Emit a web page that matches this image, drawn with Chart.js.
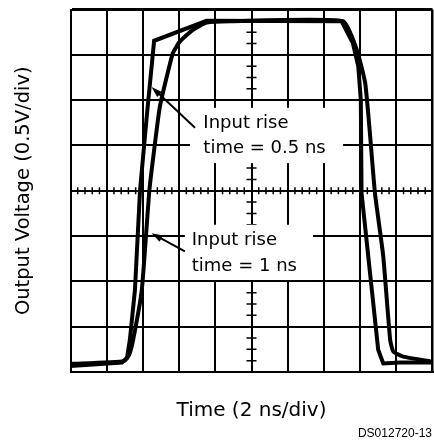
<!DOCTYPE html>
<html lang="en">
<head>
    <meta charset="UTF-8" />
    <title>Output Voltage vs Time</title>
    <script src="https://cdn.jsdelivr.net/npm/chart.js"></script>
    <style>
        body { margin: 0; background: #fff; }
        #wrap { width: 434px; height: 441px; }
    </style>
</head>
<body>
    <div id="wrap"><canvas id="scope" width="434" height="441"></canvas></div>

    <script>
        // axes in scope divisions: 10 across (2 ns/div), 8 up (0.5 V/div)
        var xDivs = 10, yDivs = 8;
        var xTitle = "Time (2 ns/div)";
        var yTitle = "Output Voltage (0.5V/div)";
        var figId = "DS012720-13";

        // input rise time = 0.5 ns
        var fastX = [0, 1.42, 1.56, 1.64, 1.78, 1.92, 2.11, 2.31, 3.76, 7.49, 7.80, 7.95, 8.02, 8.04, 8.28, 8.50, 8.64, 9.10, 10];
        var fastY = [0.13, 0.21, 0.31, 0.71, 1.81, 4.00, 5.67, 7.31, 7.75, 7.74, 7.26, 6.74, 6.00, 3.95, 2.14, 0.49, 0.19, 0.21, 0.21];

        // input rise time = 1 ns
        var slowX = [0, 1.48, 1.62, 1.73, 1.97, 2.18, 2.38, 2.47, 2.66, 2.83, 3.02, 3.38, 3.76, 4.41, 7.53, 7.91, 8.14, 8.27, 8.41, 8.64, 8.83, 8.92, 9.19, 10];
        var slowY = [0.18, 0.24, 0.38, 0.71, 1.81, 4.02, 5.34, 5.86, 6.52, 7.04, 7.29, 7.55, 7.71, 7.74, 7.74, 7.11, 6.38, 5.28, 3.95, 2.55, 0.71, 0.45, 0.34, 0.23];

        // callout labels
        var noteLines = [["Input rise", "time = 0.5 ns"], ["Input rise", "time = 1 ns"]];

        function pts(xs, ys) {
            return xs.map(function (x, i) { return { x: x, y: ys[i] }; });
        }

        // callout geometry, in divisions
        var notes = [
            { box: [3.30, 5.83, 7.53, 4.61], text: [3.67, 5.38, 4.83], from: [3.44, 5.39], to: [2.24, 6.29] },
            { box: [3.16, 3.25, 6.70, 2.03], text: [3.35, 2.80, 2.24], from: [3.16, 2.66], to: [2.24, 3.06] }
        ];

        const scopeOverlay = {
            id: "scopeOverlay",
            beforeDatasetsDraw(chart) {
                const { ctx, scales: { x, y } } = chart;
                const cx = x.getPixelForValue(xDivs / 2), cy = y.getPixelForValue(yDivs / 2);
                ctx.save();
                ctx.strokeStyle = "#000";
                ctx.lineWidth = 1.5;
                ctx.beginPath();
                for (let i = 1; i < xDivs * 5; i++) {
                    if (i % 5 === 0) continue;
                    const px = x.getPixelForValue(i / 5);
                    ctx.moveTo(px, cy - 3.5); ctx.lineTo(px, cy + 3.5);
                }
                for (let i = 1; i < yDivs * 4; i++) {
                    if (i % 4 === 0) continue;
                    const py = y.getPixelForValue(i / 4);
                    ctx.moveTo(cx - 5, py); ctx.lineTo(cx + 5, py);
                }
                ctx.stroke();
                // blank out grid behind the callouts
                ctx.fillStyle = "#fff";
                notes.forEach(function (n) {
                    const x0 = x.getPixelForValue(n.box[0]), y0 = y.getPixelForValue(n.box[1]);
                    const x1 = x.getPixelForValue(n.box[2]), y1 = y.getPixelForValue(n.box[3]);
                    ctx.fillRect(x0, y0, x1 - x0, y1 - y0);
                });
                ctx.restore();
            },
            afterDatasetsDraw(chart) {
                const { ctx, scales: { x, y } } = chart;
                ctx.save();
                ctx.fillStyle = "#000";
                ctx.strokeStyle = "#000";
                ctx.font = "18px 'DejaVu Sans'";
                ctx.textBaseline = "alphabetic";
                notes.forEach(function (n, k) {
                    const tx = x.getPixelForValue(n.text[0]);
                    ctx.fillText(noteLines[k][0], tx, y.getPixelForValue(n.text[1]));
                    ctx.fillText(noteLines[k][1], tx, y.getPixelForValue(n.text[2]));
                    // arrow
                    const ax = x.getPixelForValue(n.from[0]), ay = y.getPixelForValue(n.from[1]);
                    const bx = x.getPixelForValue(n.to[0]), by = y.getPixelForValue(n.to[1]);
                    const ang = Math.atan2(by - ay, bx - ax);
                    ctx.lineWidth = 2;
                    ctx.beginPath();
                    ctx.moveTo(ax, ay);
                    ctx.lineTo(bx - 6 * Math.cos(ang), by - 6 * Math.sin(ang));
                    ctx.stroke();
                    ctx.beginPath();
                    ctx.moveTo(bx, by);
                    ctx.lineTo(bx - 11 * Math.cos(ang) + 3.5 * Math.sin(ang), by - 11 * Math.sin(ang) - 3.5 * Math.cos(ang));
                    ctx.lineTo(bx - 11 * Math.cos(ang) - 3.5 * Math.sin(ang), by - 11 * Math.sin(ang) + 3.5 * Math.cos(ang));
                    ctx.closePath();
                    ctx.fill();
                });
                ctx.font = "12px 'Liberation Sans', Arial";
                ctx.textAlign = "right";
                ctx.fillText(figId, 432, 437);
                ctx.restore();
            }
        };

        const gridStyle = {
            color: "#000",
            drawTicks: false
        };

        const chart = new Chart(document.getElementById("scope"), {
            type: "scatter",
            data: {
                datasets: [
                    { label: "0.5 ns", data: pts(fastX, fastY), showLine: true, borderColor: "#000", borderWidth: 4, pointRadius: 0, tension: 0 },
                    { label: "1 ns", data: pts(slowX, slowY), showLine: true, borderColor: "#000", borderWidth: 4, pointRadius: 0, tension: 0.15 }
                ]
            },
            options: {
                responsive: false,
                animation: false,
                devicePixelRatio: 1,
                layout: { padding: { left: 0, top: 9.5, right: 1.5, bottom: 0 } },
                plugins: { legend: { display: false }, tooltip: { enabled: false } },
                scales: {
                    x: {
                        type: "linear", min: 0, max: xDivs,
                        ticks: { display: false, stepSize: 1 },
                        grid: Object.assign({}, gridStyle, { lineWidth: c => c.tick && c.tick.value === xDivs ? 2.5 : 2 }),
                        border: { display: true, color: "#000", width: 2 },
                        title: { display: true, text: xTitle, color: "#000", font: { family: "DejaVu Sans", size: 20 }, padding: { top: 0, bottom: 18 } },
                        afterFit: s => { s.height = 69; }
                    },
                    y: {
                        type: "linear", min: 0, max: yDivs,
                        ticks: { display: false, stepSize: 1 },
                        grid: Object.assign({}, gridStyle, { lineWidth: c => c.tick && c.tick.value === yDivs ? 3 : 2 }),
                        border: { display: true, color: "#000", width: 2 },
                        title: { display: true, text: yTitle, color: "#000", font: { family: "DejaVu Sans", size: 19.5 }, padding: { top: 12, bottom: 0 } },
                        afterFit: s => { s.width = 70.5; }
                    }
                }
            },
            plugins: [scopeOverlay]
        });
    </script>
</body>
</html>
